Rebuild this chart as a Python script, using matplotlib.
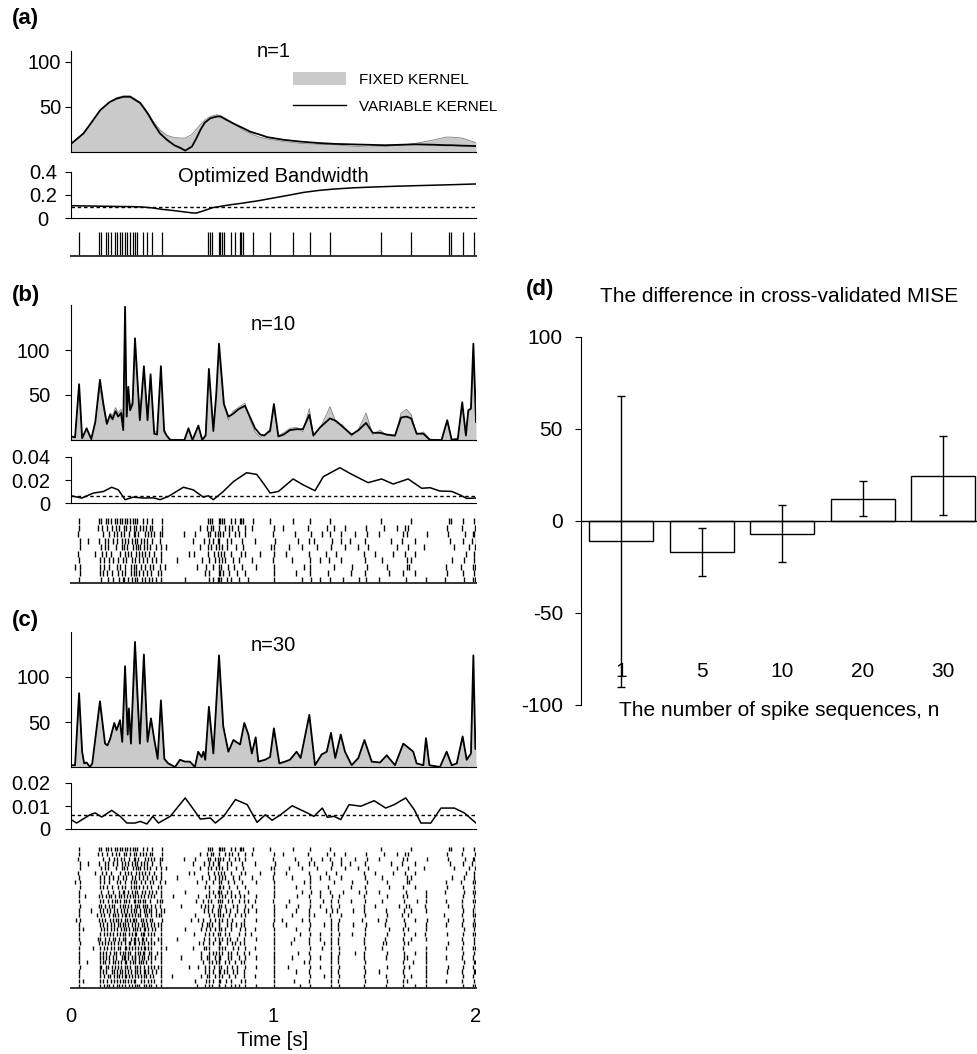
import numpy as np
import matplotlib.pyplot as plt
from matplotlib.patches import Patch
from matplotlib.lines import Line2D

plt.rcParams['font.family'] = ['Liberation Sans', 'DejaVu Sans']
plt.rcParams['axes.unicode_minus'] = False

# ---------------- data ----------------
# spike times in ms, first trial (panel a); also first row of b and c
train_a = [41, 140, 147, 173, 185, 198, 215, 229, 243, 254, 267, 279, 292, 304, 317, 325,
           355, 375, 399, 450, 678, 685, 695, 729, 738, 746, 754, 790, 812, 833, 840, 850,
           899, 982, 1097, 1178, 1279, 1533, 1678, 1868, 1876, 1937, 1992]

# remaining 9 trials of panel b
rows_b_rest = [
    [40, 132, 151, 176, 203, 221, 236, 262, 270, 291, 312, 322, 341, 357, 369, 390, 402, 448, 637, 672, 691, 703, 729, 761, 778, 797, 823, 858, 892, 1002, 1048, 1171, 1262, 1301, 1352, 1456, 1544, 1612, 1649, 1663, 1858, 1931, 1994],
    [37, 158, 189, 214, 229, 247, 263, 287, 309, 318, 331, 364, 381, 397, 411, 441, 447, 557, 612, 676, 684, 713, 727, 736, 749, 781, 808, 829, 861, 998, 1104, 1183, 1241, 1279, 1334, 1401, 1461, 1522, 1638, 1657, 1757, 1861, 1947, 1983, 1991],
    [43, 84, 139, 167, 181, 206, 227, 254, 266, 280, 301, 314, 325, 346, 359, 373, 399, 438, 601, 659, 683, 699, 724, 733, 768, 791, 846, 908, 1005, 1121, 1174, 1198, 1287, 1331, 1379, 1453, 1579, 1633, 1701, 1872, 1936, 1979, 1998],
    [42, 149, 166, 181, 223, 251, 264, 277, 306, 319, 329, 343, 362, 376, 389, 421, 444, 469, 638, 677, 692, 718, 730, 746, 770, 813, 849, 989, 1003, 1076, 1141, 1216, 1286, 1351, 1419, 1469, 1611, 1665, 1741, 1891, 1963, 1996],
    [35, 117, 154, 173, 196, 241, 268, 283, 297, 320, 335, 351, 363, 385, 409, 445, 581, 606, 678, 706, 726, 739, 758, 789, 838, 861, 934, 1001, 1061, 1177, 1261, 1311, 1449, 1501, 1589, 1647, 1699, 1951, 1989],
    [41, 144, 162, 188, 209, 234, 259, 271, 299, 315, 337, 358, 373, 401, 418, 446, 521, 647, 682, 711, 732, 744, 761, 801, 832, 896, 999, 1091, 1181, 1229, 1276, 1331, 1454, 1536, 1659, 1677, 1881, 1941, 1990],
    [21, 43, 141, 164, 189, 225, 244, 266, 294, 311, 323, 348, 366, 391, 407, 439, 463, 621, 669, 701, 729, 741, 777, 804, 843, 914, 1004, 1151, 1182, 1301, 1386, 1463, 1561, 1661, 1669, 1851, 1926, 1986, 1997],
    [42, 142, 158, 179, 201, 232, 251, 267, 296, 313, 319, 334, 358, 376, 396, 430, 446, 663, 681, 729, 737, 753, 779, 821, 859, 1001, 1111, 1179, 1271, 1381, 1451, 1571, 1641, 1699, 1856, 1934, 1988],
    [39, 146, 181, 209, 236, 255, 263, 281, 302, 317, 327, 353, 365, 386, 401, 421, 443, 561, 682, 702, 727, 733, 741, 772, 791, 831, 876, 1000, 1139, 1183, 1229, 1279, 1341, 1421, 1458, 1521, 1654, 1751, 1849, 1941, 1984, 1993],
]

# remaining 20 trials of panel c
rows_c_rest = [
    [41, 71, 139, 152, 171, 188, 199, 219, 238, 248, 264, 277, 291, 305, 317, 333, 346, 361, 379, 395, 412, 446, 502, 627, 669, 683, 712, 731, 744, 761, 789, 811, 837, 856, 913, 1003, 1116, 1176, 1231, 1291, 1323, 1449, 1561, 1639, 1661, 1754, 1936, 1988],
    [39, 141, 159, 184, 201, 216, 229, 241, 262, 271, 286, 309, 318, 329, 341, 358, 366, 392, 427, 441, 448, 616, 652, 678, 691, 726, 735, 747, 774, 797, 829, 852, 872, 909, 998, 1079, 1179, 1246, 1282, 1318, 1381, 1452, 1537, 1642, 1711, 1751, 1852, 1933, 1987, 1996],
    [43, 136, 149, 168, 187, 201, 213, 243, 259, 269, 282, 298, 314, 327, 338, 357, 363, 377, 396, 415, 440, 541, 641, 664, 678, 703, 729, 742, 759, 801, 820, 857, 892, 1004, 1063, 1121, 1179, 1229, 1286, 1324, 1447, 1499, 1621, 1652, 1671, 1749, 1861, 1929, 1989],
    [38, 101, 143, 157, 176, 194, 211, 229, 249, 263, 276, 294, 311, 321, 339, 359, 369, 384, 393, 421, 445, 461, 658, 679, 697, 728, 734, 766, 786, 818, 854, 873, 913, 1001, 1109, 1175, 1258, 1287, 1316, 1391, 1446, 1556, 1644, 1681, 1752, 1937, 1984, 1998],
    [40, 129, 146, 161, 189, 207, 219, 234, 254, 266, 272, 284, 301, 316, 331, 342, 363, 374, 396, 419, 437, 444, 612, 681, 706, 724, 737, 752, 779, 809, 841, 859, 1000, 1089, 1177, 1201, 1281, 1331, 1451, 1559, 1637, 1663, 1841, 1931, 1985, 1993],
    [25, 42, 140, 154, 168, 191, 205, 221, 233, 246, 268, 279, 289, 306, 313, 319, 346, 358, 371, 389, 402, 447, 591, 629, 654, 684, 709, 732, 746, 771, 796, 852, 912, 1002, 1042, 1141, 1176, 1284, 1322, 1439, 1516, 1557, 1643, 1701, 1756, 1862, 1937, 1990],
    [39, 143, 156, 177, 199, 211, 231, 244, 259, 267, 281, 299, 317, 333, 349, 362, 376, 393, 408, 431, 445, 649, 671, 682, 697, 730, 733, 768, 788, 814, 839, 855, 998, 1061, 1181, 1251, 1285, 1319, 1393, 1456, 1551, 1649, 1754, 1851, 1929, 1986, 1997],
    [41, 61, 146, 162, 178, 197, 214, 226, 248, 262, 271, 286, 304, 317, 326, 341, 360, 364, 381, 398, 417, 443, 561, 641, 669, 684, 712, 729, 741, 761, 791, 833, 858, 911, 1003, 1111, 1174, 1284, 1317, 1452, 1569, 1641, 1666, 1753, 1941, 1988],
    [40, 142, 163, 179, 194, 209, 226, 244, 258, 266, 287, 299, 315, 322, 344, 356, 361, 381, 396, 411, 444, 609, 661, 680, 700, 726, 735, 759, 781, 829, 858, 891, 1000, 1131, 1178, 1229, 1285, 1321, 1389, 1451, 1561, 1644, 1701, 1749, 1856, 1934, 1987, 1994],
    [38, 131, 144, 169, 187, 205, 218, 236, 255, 267, 269, 296, 311, 316, 330, 349, 358, 372, 393, 428, 445, 521, 659, 683, 709, 730, 745, 769, 786, 821, 855, 912, 1002, 1101, 1177, 1231, 1283, 1319, 1449, 1551, 1639, 1681, 1753, 1933, 1988],
    [42, 140, 152, 166, 182, 198, 214, 231, 248, 266, 284, 293, 310, 317, 338, 352, 361, 382, 395, 410, 443, 631, 651, 681, 699, 732, 738, 770, 793, 810, 837, 856, 1001, 1085, 1176, 1248, 1284, 1320, 1448, 1541, 1558, 1642, 1665, 1861, 1935, 1989],
    [40, 110, 143, 165, 178, 198, 211, 230, 241, 266, 270, 287, 300, 315, 332, 347, 359, 366, 379, 394, 446, 470, 601, 655, 668, 682, 729, 733, 747, 762, 800, 825, 857, 911, 1003, 1178, 1240, 1285, 1322, 1452, 1538, 1640, 1752, 1851, 1932, 1987, 1996],
    [41, 142, 159, 175, 191, 210, 222, 240, 258, 268, 281, 292, 316, 329, 343, 354, 360, 385, 397, 426, 444, 640, 680, 700, 718, 731, 748, 776, 790, 821, 855, 878, 1000, 1121, 1177, 1283, 1321, 1401, 1449, 1561, 1645, 1701, 1755, 1936, 1988],
    [39, 145, 160, 173, 190, 207, 222, 250, 261, 267, 280, 303, 316, 318, 336, 350, 362, 378, 396, 413, 445, 541, 641, 670, 683, 711, 730, 736, 775, 791, 830, 858, 913, 1002, 1091, 1179, 1229, 1285, 1319, 1447, 1555, 1642, 1660, 1753, 1851, 1933, 1986],
    [40, 80, 143, 157, 168, 186, 205, 219, 232, 249, 266, 272, 291, 305, 317, 335, 348, 358, 370, 393, 443, 651, 682, 694, 715, 730, 732, 760, 779, 810, 841, 856, 1001, 1151, 1177, 1284, 1320, 1452, 1641, 1691, 1752, 1941, 1989, 1997],
    [42, 141, 150, 171, 185, 201, 218, 234, 245, 267, 278, 290, 315, 326, 341, 361, 378, 395, 411, 429, 445, 581, 625, 663, 681, 708, 731, 740, 768, 795, 818, 857, 912, 1000, 1071, 1178, 1231, 1283, 1321, 1449, 1561, 1645, 1671, 1751, 1861, 1934, 1987],
    [38, 144, 159, 172, 200, 213, 228, 241, 254, 268, 282, 298, 316, 324, 340, 359, 364, 382, 398, 421, 446, 661, 683, 703, 729, 734, 756, 770, 801, 820, 855, 1003, 1111, 1176, 1285, 1318, 1451, 1521, 1641, 1754, 1856, 1932, 1988, 1995],
    [41, 143, 162, 181, 195, 213, 226, 237, 252, 266, 270, 285, 303, 317, 331, 346, 360, 372, 392, 404, 444, 501, 641, 671, 680, 712, 730, 745, 780, 809, 856, 911, 1002, 1180, 1251, 1284, 1322, 1448, 1557, 1643, 1681, 1752, 1935, 1987],
    [40, 60, 142, 158, 178, 197, 210, 225, 242, 259, 267, 282, 296, 310, 316, 345, 361, 379, 395, 412, 443, 611, 666, 682, 700, 731, 737, 765, 791, 840, 857, 1001, 1101, 1177, 1283, 1320, 1451, 1561, 1640, 1660, 1753, 1851, 1933, 1990],
    [39, 145, 165, 179, 190, 208, 225, 238, 250, 268, 287, 300, 315, 327, 335, 359, 371, 385, 396, 418, 445, 621, 661, 681, 698, 729, 733, 762, 790, 812, 830, 858, 913, 1003, 1131, 1178, 1284, 1321, 1449, 1555, 1641, 1701, 1752, 1936, 1986, 1997],
]

# rate curves: (time s, fixed kernel, variable kernel)
curve_a = [(0.0, 8.5, 8.5), (0.061, 20, 20), (0.10, 32, 32), (0.144, 46, 46), (0.19, 55, 55),
           (0.226, 60, 59), (0.26, 62, 61), (0.292, 62, 61), (0.342, 55, 54), (0.38, 43, 42),
           (0.408, 33, 31), (0.44, 24, 20), (0.474, 18, 13), (0.51, 15.5, 7), (0.54, 15, 4),
           (0.564, 15, 1), (0.597, 19, 5.5), (0.62, 25, 15), (0.639, 30, 24), (0.66, 35, 32),
           (0.688, 39, 37), (0.72, 41, 39), (0.738, 40, 39), (0.77, 36, 35), (0.804, 31, 31),
           (0.85, 24, 26), (0.886, 20, 22), (0.93, 16, 19), (0.969, 14, 16), (1.051, 11, 13),
           (1.134, 9, 11), (1.22, 8, 9.5), (1.299, 7.5, 8.5), (1.38, 6, 8), (1.464, 5, 7.5),
           (1.55, 5.5, 7), (1.629, 7, 7.5), (1.70, 9, 8), (1.794, 13, 7.5), (1.85, 16, 7),
           (1.88, 16, 7), (1.93, 15, 6.5), (1.97, 12, 6.3), (2.0, 10, 6)]

curve_b = [(0.0, 4, 4), (0.02, 3, 3), (0.04, 58, 62), (0.055, 3, 2), (0.077, 12, 13), (0.10, 2, 1),
           (0.12, 18, 20), (0.143, 58, 67), (0.16, 36, 40), (0.177, 17, 18), (0.193, 30, 28),
           (0.205, 27, 23), (0.22, 36, 32), (0.233, 30, 26), (0.247, 34, 30), (0.258, 25, 11),
           (0.267, 110, 148), (0.275, 40, 26), (0.283, 50, 59), (0.292, 38, 33), (0.304, 42, 40),
           (0.316, 100, 113), (0.34, 30, 22), (0.36, 75, 82), (0.378, 28, 22), (0.393, 66, 73),
           (0.411, 10, 7), (0.425, 8, 6), (0.444, 72, 82), (0.46, 12, 10), (0.472, 6, 5),
           (0.49, 1, 0), (0.56, 0, 0), (0.58, 12, 13), (0.60, 1, 0), (0.629, 15, 16), (0.648, 1, 0),
           (0.665, 6, 5), (0.681, 72, 79), (0.703, 14, 10), (0.717, 48, 50), (0.731, 98, 107),
           (0.755, 42, 40), (0.777, 22, 26), (0.80, 32, 29), (0.826, 36, 34), (0.859, 41, 38),
           (0.885, 22, 25), (0.909, 9, 13), (0.935, 3, 6), (0.955, 6, 5), (0.97, 9, 8),
           (0.983, 12, 10), (1.002, 36, 40), (1.024, 5, 4), (1.05, 8, 6), (1.081, 13, 11),
           (1.114, 14, 12), (1.145, 9, 12), (1.177, 35, 28), (1.197, 4, 5), (1.23, 13, 14),
           (1.279, 37, 24), (1.31, 19, 21), (1.34, 17, 15), (1.386, 4, 6), (1.42, 12, 11),
           (1.457, 30, 19), (1.49, 6, 8), (1.526, 11, 8), (1.56, 5, 6), (1.60, 4, 5), (1.63, 30, 25),
           (1.657, 34, 26), (1.68, 28, 24), (1.707, 6, 7), (1.74, 9, 7), (1.773, 1, 0), (1.83, 0, 0),
           (1.858, 20, 22), (1.88, 1, 0), (1.91, 2, 1), (1.932, 38, 42), (1.95, 8, 5),
           (1.962, 30, 33), (1.975, 33, 35), (1.987, 80, 107), (1.997, 40, 42), (2.0, 30, 20)]

curve_c = [(0.0, 2, 2), (0.02, 2, 2), (0.04, 72, 82), (0.055, 17, 17), (0.065, 4, 4), (0.077, 5, 5),
           (0.094, 0, 0), (0.105, 4, 4), (0.143, 70, 73), (0.168, 27, 26), (0.18, 24, 24),
           (0.193, 31, 31), (0.214, 48, 49), (0.225, 40, 41), (0.242, 51, 52), (0.253, 28, 28),
           (0.267, 95, 112), (0.28, 36, 36), (0.286, 60, 65), (0.296, 27, 26), (0.316, 115, 139),
           (0.34, 27, 26), (0.36, 105, 125), (0.378, 29, 28), (0.395, 52, 54), (0.411, 31, 31),
           (0.428, 10, 9), (0.444, 68, 74), (0.461, 9, 9), (0.48, 4, 4), (0.514, 0, 0),
           (0.538, 8, 8), (0.563, 6, 6), (0.587, 6, 6), (0.612, 0, 0), (0.628, 17, 17),
           (0.645, 11, 11), (0.654, 17, 17), (0.663, 8, 8), (0.681, 62, 67), (0.703, 15, 15),
           (0.731, 108, 124), (0.752, 45, 45), (0.777, 17, 17), (0.802, 30, 30), (0.835, 25, 25),
           (0.856, 48, 49), (0.876, 36, 36), (0.893, 15, 15), (0.912, 32, 33), (0.925, 6, 6),
           (0.958, 8, 8), (0.983, 11, 11), (1.002, 41, 43), (1.029, 4, 4), (1.057, 6, 6),
           (1.081, 8, 8), (1.114, 17, 17), (1.134, 10, 10), (1.177, 56, 58), (1.205, 2, 2),
           (1.238, 14, 14), (1.263, 17, 17), (1.284, 37, 38), (1.305, 10, 10), (1.332, 34, 36),
           (1.353, 17, 17), (1.386, 2, 2), (1.419, 10, 10), (1.449, 30, 30), (1.485, 6, 6),
           (1.526, 5, 5), (1.559, 13, 13), (1.60, 2, 2), (1.641, 26, 26), (1.674, 20, 20),
           (1.69, 17, 17), (1.707, 4, 4), (1.74, 2, 2), (1.753, 32, 32), (1.77, 2, 2),
           (1.822, 0, 0), (1.855, 17, 17), (1.88, 2, 2), (1.905, 4, 4), (1.934, 34, 34),
           (1.954, 8, 8), (1.975, 15, 15), (1.987, 100, 124), (1.997, 20, 20), (2.0, 20, 20)]

# optimized bandwidth (time s, bandwidth s) and the fixed optimum (dashed)
bw_a = [(0.0, 0.107), (0.1, 0.104), (0.2, 0.101), (0.3, 0.099), (0.35, 0.096), (0.4, 0.088),
        (0.45, 0.075), (0.5, 0.066), (0.55, 0.055), (0.6, 0.044), (0.62, 0.043), (0.65, 0.06),
        (0.7, 0.09), (0.775, 0.112), (0.85, 0.13), (0.925, 0.15), (1.0, 0.174), (1.075, 0.198),
        (1.15, 0.223), (1.225, 0.24), (1.3, 0.252), (1.4, 0.263), (1.5, 0.27), (1.6, 0.276),
        (1.7, 0.281), (1.85, 0.288), (2.0, 0.296)]
bw_b = [(0.0, 0.0063), (0.053, 0.0043), (0.110, 0.0086), (0.160, 0.010), (0.201, 0.0137),
        (0.234, 0.0114), (0.267, 0.0029), (0.308, 0.0051), (0.357, 0.0043), (0.407, 0.0045),
        (0.440, 0.0029), (0.481, 0.0057), (0.555, 0.0137), (0.604, 0.0114), (0.653, 0.0051),
        (0.678, 0.0063), (0.703, 0.0029), (0.752, 0.010), (0.802, 0.0186), (0.867, 0.0263),
        (0.917, 0.0249), (0.950, 0.0171), (0.983, 0.0087), (1.024, 0.010), (1.097, 0.0209),
        (1.147, 0.0157), (1.205, 0.0107), (1.246, 0.0229), (1.328, 0.0307), (1.378, 0.0257),
        (1.467, 0.0177), (1.534, 0.0209), (1.591, 0.0165), (1.665, 0.0209), (1.732, 0.0128),
        (1.773, 0.0133), (1.822, 0.0104), (1.880, 0.0101), (1.921, 0.007), (1.954, 0.004),
        (2.0, 0.0043)]
bw_c = [(0.0, 0.0041), (0.028, 0.0026), (0.094, 0.0062), (0.119, 0.007), (0.152, 0.0052),
        (0.201, 0.0081), (0.243, 0.0055), (0.276, 0.0026), (0.317, 0.0026), (0.342, 0.0033),
        (0.375, 0.0022), (0.404, 0.0055), (0.432, 0.0026), (0.490, 0.0055), (0.564, 0.0135),
        (0.606, 0.0084), (0.639, 0.0043), (0.688, 0.0048), (0.713, 0.0026), (0.754, 0.0055),
        (0.812, 0.0128), (0.870, 0.0106), (0.919, 0.0029), (0.960, 0.0062), (0.993, 0.0038),
        (1.035, 0.0062), (1.092, 0.0101), (1.150, 0.0077), (1.200, 0.0055), (1.241, 0.0091),
        (1.266, 0.0051), (1.299, 0.0055), (1.332, 0.0041), (1.373, 0.0106), (1.431, 0.0099),
        (1.497, 0.0123), (1.554, 0.0091), (1.596, 0.0106), (1.653, 0.0135), (1.695, 0.0084),
        (1.728, 0.0026), (1.777, 0.0026), (1.827, 0.0091), (1.893, 0.0091), (1.942, 0.007),
        (2.0, 0.0026)]
bw_fixed = [0.095, 0.0063, 0.0062]

# panel d
n_labels = ['1', '5', '10', '20', '30']
mise_diff = [-11, -17, -7, 12, 24.5]
mise_err = [79, 13, 15.5, 9.5, 21.5]

# ---------------- figure ----------------
W, H = 977, 1054
fig = plt.figure(figsize=(W / 100, H / 100), dpi=100)
GRAY = '#c9cac9'
FS = 14.5


def px(x0, y0, x1, y1):
    return [x0 / W, 1 - y1 / H, (x1 - x0) / W, (y1 - y0) / H]


def style(ax, left=True):
    for s in ['top', 'right']:
        ax.spines[s].set_visible(False)
    ax.spines['left'].set_visible(left)
    ax.set_xlim(0, 2)
    ax.set_xticks([])


def density(rect, curve, ymax, pad, title, ty):
    ax = fig.add_axes(rect)
    c = np.array(curve, dtype=float)
    ax.fill_between(c[:, 0], c[:, 1], color=GRAY, lw=0)
    ax.plot(c[:, 0], c[:, 1], color='#7f7f7f', lw=0.6)
    ax.plot(c[:, 0], c[:, 2], color='k', lw=1.3)
    style(ax)
    ax.set_ylim(0, ymax)
    ax.set_yticks([50, 100])
    ax.tick_params(axis='y', length=4, pad=pad, labelsize=FS)
    ax.text(0.5, ty, title, transform=ax.transAxes, ha='center', va='baseline', fontsize=FS)
    return ax


def bandwidth(rect, bw, fixed, ymax, ticks, labels, center=False):
    ax = fig.add_axes(rect)
    b = np.array(bw)
    ax.plot(b[:, 0], b[:, 1], color='k', lw=1.1)
    ax.axhline(fixed, color='k', lw=1.0, ls=(0, (2.5, 2)))
    style(ax)
    ax.set_ylim(0, ymax)
    ax.set_yticks(ticks, labels)
    if center:
        ax.tick_params(axis='y', length=4, pad=16, labelsize=FS)
        for lab in ax.get_yticklabels():
            lab.set_horizontalalignment('center')
    else:
        ax.tick_params(axis='y', length=4, pad=11, labelsize=FS)
    return ax


def raster(rect, rows, lw):
    ax = fig.add_axes(rect)
    n = len(rows)
    ax.eventplot([np.array(r) / 1000 for r in rows], lineoffsets=np.arange(n)[::-1],
                 linelengths=0.9 if n > 1 else 1.0, colors='k', linewidths=lw)
    style(ax, left=False)
    ax.spines['bottom'].set_color('#333333')
    ax.spines['bottom'].set_linewidth(1.4)
    ax.set_ylim(-0.5, n - 0.5)
    ax.set_yticks([])
    return ax


rows_b = [train_a] + rows_b_rest
rows_c = rows_b + rows_c_rest

# (a)
density(px(71, 51, 476, 151.5), curve_a, 112, 3, 'n=1', 0.943)
bandwidth(px(71, 172, 476, 218), bw_a, bw_fixed[0], 0.4, [0, 0.2, 0.4], ['0', '0.2', '0.4'], center=True)
fig.text(273 / W, 1 - 182 / H, 'Optimized Bandwidth', ha='center', va='baseline', fontsize=FS)
raster(px(71, 232, 476, 256), [train_a], 0.9)

fig.legend(handles=[Patch(facecolor=GRAY, edgecolor='none'), Line2D([], [], color='k', lw=1.0)],
           labels=['FIXED KERNEL', 'VARIABLE KERNEL'], loc='upper left',
           bbox_to_anchor=(293 / W, 1 - 72 / H), frameon=False, fontsize=11,
           handlelength=3.5, handleheight=0.95, handletextpad=0.85, labelspacing=0.8,
           borderpad=0, borderaxespad=0)

# (b)
density(px(71, 305, 476, 440), curve_b, 150, 11, 'n=10', 0.815)
bandwidth(px(71, 457, 476, 503), bw_b, bw_fixed[1], 0.04, [0, 0.02, 0.04], ['0', '0.02', '0.04'])
raster(px(71, 518, 476, 583), rows_b, 1.0)

# (c)
density(px(71, 632, 476, 767), curve_c, 150, 11, 'n=30', 0.861)
bandwidth(px(71, 783, 476, 829), bw_c, bw_fixed[2], 0.02, [0, 0.01, 0.02], ['0', '0.01', '0.02'])
ax_rc = raster(px(71, 847, 476, 988), rows_c, 1.0)
ax_rc.set_xticks([0, 1, 2], ['0', '1', '2'])
ax_rc.tick_params(axis='x', length=0, pad=14, labelsize=FS)
fig.text(273 / W, 1 - 1040 / H, 'Time [s]', ha='center', va='center', fontsize=FS)

# panel letters
for lab, x, y in [('(a)', 12, 8), ('(b)', 12, 285), ('(c)', 12, 610), ('(d)', 526, 279)]:
    fig.text(x / W, 1 - y / H, lab, ha='left', va='top', fontsize=16, fontweight='bold')

# (d)
axd = fig.add_axes(px(581, 337, 977, 705))
xpos = np.arange(len(mise_diff))
axd.bar(xpos, mise_diff, width=0.8, color='white', edgecolor='k', lw=1.0, zorder=2)
axd.errorbar(xpos, mise_diff, yerr=mise_err, fmt='none', ecolor='k', elinewidth=1.0,
             capsize=3, capthick=1.0, zorder=3)
axd.axhline(0, color='k', lw=1.0, zorder=2.5)
axd.set_xlim(-0.5, 4.42)
axd.set_ylim(-100, 100)
for s in ['top', 'right', 'bottom']:
    axd.spines[s].set_visible(False)
axd.set_xticks([])
axd.set_yticks([-100, -50, 0, 50, 100])
axd.tick_params(axis='y', length=4, pad=9, labelsize=15)
for i, lab in enumerate(n_labels):
    axd.text(xpos[i], -82, lab, ha='center', va='center', fontsize=15)
fig.text(779 / W, 1 - 297 / H, 'The difference in cross-validated MISE', ha='center', va='center', fontsize=15)
fig.text(779 / W, 1 - 710 / H, 'The number of spike sequences, n', ha='center', va='center', fontsize=15)

fig.savefig('out.png', dpi=100)
